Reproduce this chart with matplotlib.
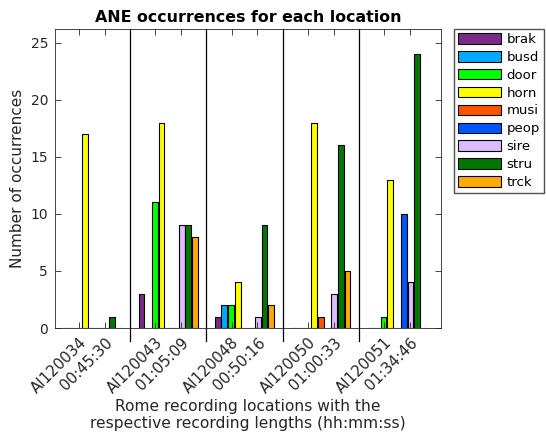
import numpy as np
import matplotlib
matplotlib.use("Agg")
import matplotlib.pyplot as plt

# recording locations and lengths
locations = ["AI120034", "AI120043", "AI120048", "AI120050", "AI120051"]
lengths = ["00:45:30", "01:05:09", "00:50:16", "01:00:33", "01:34:46"]

# event classes and their colours
classes = ["brak", "busd", "door", "horn", "musi", "peop", "sire", "stru", "trck"]
colors = ["#7b2a8c", "#00aaff", "#00ff00", "#ffff00", "#ff5500",
          "#0055ff", "#dcbcff", "#007700", "#ffaa00"]

# occurrences per class (rows) and location (columns)
brak = [0, 3, 1, 0, 0]
busd = [0, 0, 2, 0, 0]
door = [0, 11, 2, 0, 1]
horn = [17, 18, 4, 18, 13]
musi = [0, 0, 0, 1, 0]
peop = [0, 0, 0, 0, 10]
sire = [0, 9, 1, 3, 4]
stru = [1, 9, 9, 16, 24]
trck = [0, 8, 2, 5, 0]
counts = [brak, busd, door, horn, musi, peop, sire, stru, trck]

fig = plt.figure(figsize=(5.46, 4.36), dpi=100)
ax = fig.add_axes([0.1007, 0.2477, 0.7070, 0.6858])

x = np.arange(len(locations))
slot = 0.088
width = 0.075
for k, (name, col, vals) in enumerate(zip(classes, colors, counts)):
    ax.bar(x + (k - 4) * slot, vals, width, color=col, edgecolor="black",
           linewidth=0.8, label=name)

# separators between locations
for s in x[:-1] + 0.5:
    ax.axvline(s, ymin=-0.045, ymax=1, color="black", linewidth=0.9, clip_on=False)

ticks = np.concatenate([x - 0.17, x + 0.17])
labels = locations + lengths
order = np.argsort(ticks)
ax.set_xticks(ticks[order])
ax.set_xticklabels([labels[i] for i in order], rotation=45, ha="right",
                   va="top", rotation_mode="anchor", fontsize=10.8, color="#262626")
ax.set_xlim(-0.485, 4.577)
ax.set_ylim(0, 26.2)
ax.set_yticks([0, 5, 10, 15, 20, 25])
ax.tick_params(axis="y", labelsize=10, labelcolor="#262626")
ax.tick_params(direction="in", top=True, right=True, length=4, width=0.6,
               color="#262626", pad=5)
ax.tick_params(axis="x", pad=5)
for sp in ax.spines.values():
    sp.set_linewidth(0.6)
    sp.set_color("#262626")

ax.set_title("ANE occurrences for each location", fontsize=11.4,
             fontweight="bold", pad=5)
ax.set_ylabel("Number of occurrences", fontsize=11, color="#262626")
ax.set_xlabel("Rome recording locations with the\nrespective recording lengths (hh:mm:ss)",
              fontsize=11.2, color="#262626", labelpad=2)

ax.legend(loc="upper left", bbox_to_anchor=(1.033, 1.0), fontsize=9.5,
          frameon=True, fancybox=False, edgecolor="#262626", handlelength=3.3,
          handleheight=0.85, labelspacing=0.37, handletextpad=0.38,
          borderpad=0.3, borderaxespad=0)

fig.savefig("out.png", dpi=100, facecolor="white")
